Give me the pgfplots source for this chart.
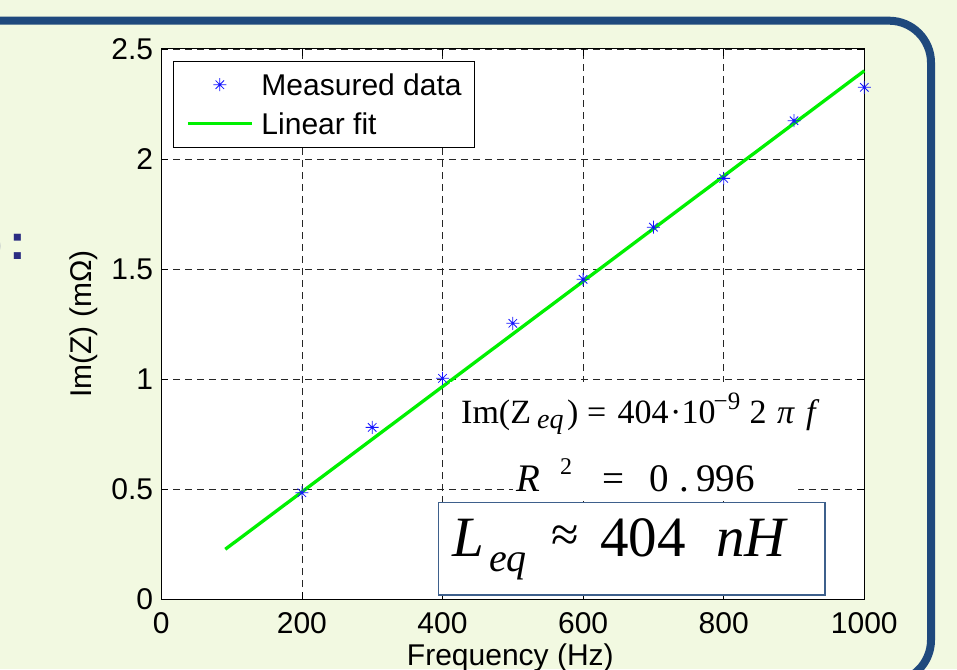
\documentclass[border=0pt]{standalone}
\usepackage{pgfplots}
\pgfplotsset{compat=1.18}
\usepackage{fontspec}
\setmainfont{Liberation Sans}
\newfontfamily\tms{Liberation Serif}
\definecolor{bg}{RGB}{242,249,225}
\definecolor{frame}{RGB}{31,73,125}
\definecolor{boxc}{RGB}{62,96,140}
\definecolor{navy}{RGB}{43,45,130}
\definecolor{fitgreen}{RGB}{0,240,0}
\definecolor{mblue}{RGB}{20,20,255}
\pgfdeclareplotmark{mstar}{%
  \pgfpathmoveto{\pgfqpoint{-\pgfplotmarksize}{0pt}}\pgfpathlineto{\pgfqpoint{\pgfplotmarksize}{0pt}}%
  \pgfpathmoveto{\pgfqpoint{0pt}{-\pgfplotmarksize}}\pgfpathlineto{\pgfqpoint{0pt}{\pgfplotmarksize}}%
  \pgfpathmoveto{\pgfqpoint{-.65\pgfplotmarksize}{-.65\pgfplotmarksize}}\pgfpathlineto{\pgfqpoint{.65\pgfplotmarksize}{.65\pgfplotmarksize}}%
  \pgfpathmoveto{\pgfqpoint{-.65\pgfplotmarksize}{.65\pgfplotmarksize}}\pgfpathlineto{\pgfqpoint{.65\pgfplotmarksize}{-.65\pgfplotmarksize}}%
  \pgfusepathqstroke}
\newcommand{\af}{\fontsize{30}{36}\selectfont}
\pgfplotsset{
  legend image code/.code={\draw[#1, mark repeat=2, mark phase=2] plot coordinates {(0pt,0pt)(32pt,0pt)(64pt,0pt)};}
}
\begin{document}
\begin{tikzpicture}[x=1pt,y=1pt]
\useasboundingbox (0,0) rectangle (957,669);
\begin{scope}[shift={(0,669)}, yscale=-1]
\fill[bg] (0,0) rectangle (957,669);
\draw[frame, line width=8pt, rounded corners=42pt] (-80,20.7) -- (931,20.7) -- (931,682) -- (-80,682);
\node[anchor=base east, inner sep=0pt, text=navy, font=\fontsize{50}{60}\selectfont\bfseries] at (3,260) {)};
\node[anchor=base west, inner sep=0pt, text=navy, font=\fontsize{50}{60}\selectfont\bfseries] at (9,260) {:};
\end{scope}
\begin{axis}[
  at={(161.3pt,70pt)}, anchor=south west,
  scale only axis, width=703pt, height=550pt,
  xmin=0, xmax=1000, ymin=0, ymax=2.5,
  xtick={0,200,400,600,800,1000},
  ytick={0,0.5,1,1.5,2,2.5},
  clip=false,
  axis background/.style={fill=white},
  grid=major,
  major grid style={black!85, dash pattern=on 7pt off 5pt, line width=0.8pt},
  axis line style={black, line width=1pt},
  tick align=inside, major tick length=7pt,
  tick style={black, line width=0.8pt},
  /pgf/number format/assume math mode=true,
  /pgf/number format/1000 sep={},
  ticklabel style={font=\af, inner sep=0pt},
  xticklabel style={yshift=-13pt},
  yticklabel style={xshift=-8pt},
  xlabel={Frequency (Hz)},
  ylabel={Im(Z) (m\symbol{"03A9})},
  xlabel style={font=\af, inner sep=0pt, at={(axis description cs:0.4965,-0.12)}, anchor=base},
  ylabel style={font=\af, inner sep=0pt, at={(axis description cs:-0.099,0.5)}, anchor=base},
  legend cell align=left,
  legend style={at={(axis description cs:0.0162,0.9787)}, anchor=north west,
    draw=black, line width=1pt, fill=white, inner xsep=13pt, inner ysep=10.5pt,
    row sep=13pt, font=\af,
    nodes={inner sep=0pt, text height=24pt, text depth=2pt},
    /tikz/every odd column/.append style={column sep=8pt}},
]
\addplot[only marks, mark=mstar, mark size=6.5pt, color=mblue, line width=0.8pt]
  coordinates {(200,0.483)(300,0.780)(400,1.003)(500,1.253)(600,1.453)(700,1.690)(800,1.912)(900,2.174)(1000,2.326)};
\addlegendentry{Measured data}
\addplot[fitgreen, line width=3.3pt, mark=none] coordinates {(91,0.226)(1000,2.401)};
\addlegendentry{Linear fit}
\end{axis}
\begin{scope}[shift={(0,669)}, yscale=-1]
% white backgrounds of the equation texts
\fill[white] (450,382) rectangle (862.5,455);
\fill[white] (513,455) rectangle (798,501);
% line 1
\begin{scope}[every node/.style={anchor=base west, inner sep=0pt, font=\tms\fontsize{34}{40}\selectfont}]
\node at (461,423.3) {Im(Z};
\node[font=\tms\itshape\fontsize{28}{32}\selectfont] at (537,428.3) {eq};
\node at (567,423.3) {)};
\node at (587,423.3) {=};
\node at (617.5,423.3) {404};
\node at (670,423.3) {\symbol{"00B7}10};
\node[font=\tms\fontsize{25}{30}\selectfont] at (713.5,410) {\symbol{"2212}9};
\node at (749.5,423.3) {2};
\node[font=\tms\itshape\fontsize{34}{40}\selectfont] at (777,423.3) {\symbol{"03C0}};
\node[font=\tms\itshape\fontsize{34}{40}\selectfont] at (806,423.3) {f};
\end{scope}
% line 2
\begin{scope}[every node/.style={anchor=base west, inner sep=0pt, font=\tms\fontsize{39}{46}\selectfont}]
\node[font=\tms\itshape\fontsize{39}{46}\selectfont] at (516,491.7) {R};
\node[font=\tms\fontsize{24}{28}\selectfont] at (560,475) {2};
\node at (602,491.7) {=};
\node at (649,491.7) {0};
\node at (679,491.7) {.};
\node at (696,491.7) {996};
\end{scope}
% box
\draw[boxc, line width=1.5pt, fill=white] (438.3,502.3) rectangle (825,595);
\begin{scope}[every node/.style={anchor=base west, inner sep=0pt, font=\tms\fontsize{57}{66}\selectfont}]
\node[font=\tms\itshape\fontsize{57}{66}\selectfont] at (452,556.7) {L};
\node[font=\tms\itshape\fontsize{40}{46}\selectfont] at (489,571) {eq};
\node[anchor=center, font=\tms\fontsize{50}{56}\selectfont] at (565,538.3) {\symbol{"2248}};
\node at (600,556.7) {404};
\node[font=\tms\itshape\fontsize{57}{66}\selectfont] at (716,556.7) {nH};
\end{scope}
\end{scope}
\end{tikzpicture}
\end{document}
